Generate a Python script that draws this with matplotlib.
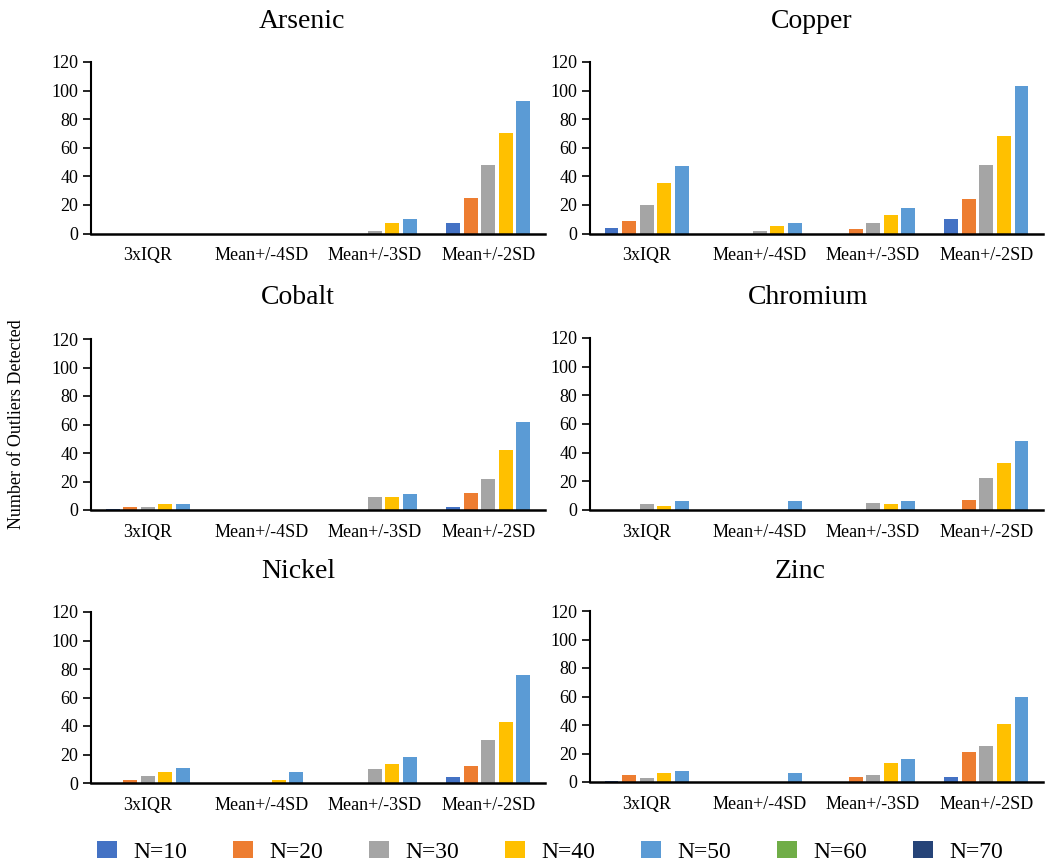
import matplotlib.pyplot as plt
import numpy as np
from matplotlib.patches import Patch

plt.rcParams["font.family"] = ["Liberation Serif", "DejaVu Serif"]

methods = ["3xIQR", "Mean+/-4SD", "Mean+/-3SD", "Mean+/-2SD"]
series = ["N=10", "N=20", "N=30", "N=40", "N=50", "N=60", "N=70"]
colors = ["#4472C4", "#ED7D31", "#A5A5A5", "#FFC000", "#5B9BD5", "#70AD47", "#264478"]

# rows: N=10..N=50, columns: methods (N=60 / N=70 have no bars)
arsenic = [[0, 0, 0, 7], [0, 0, 0, 25], [0, 0, 2, 48], [0, 0, 7, 70], [0, 0, 10, 93]]
copper = [[4, 0, 0, 10], [9, 0, 3, 24], [20, 2, 7.5, 48], [35.5, 5, 13, 68.5], [47, 7, 17.5, 103]]
cobalt = [[1, 0, 0, 2], [2, 0, 0, 12], [2, 0, 9, 22], [4, 0, 9, 42], [4, 0, 11, 62]]
chromium = [[0, 0, 0, 0], [0, 0, 0, 7], [4, 0, 5, 22], [3, 0, 4, 33], [6, 6, 6, 48]]
nickel = [[0, 0, 0, 4], [2, 0, 0, 12], [5, 0, 10, 30], [7.5, 2, 13, 43], [10.5, 8, 18, 76]]
zinc = [[1, 0, 0, 3.5], [5, 0, 3.5, 21], [3, 0, 5, 25], [6.5, 0, 13.5, 41], [8, 6.5, 16, 60]]

panels = [
    ("Arsenic", arsenic), ("Copper", copper),
    ("Cobalt", cobalt), ("Chromium", chromium),
    ("Nickel", nickel), ("Zinc", zinc),
]

W, H = 1045, 865
fig = plt.figure(figsize=(W / 100, H / 100), dpi=100)

# axes boxes in pixels: (left, right, y of 0, y of 120)
boxes = [
    (91, 545, 233.5, 62), (590, 1043, 233.5, 62),
    (91, 545, 510, 339), (590, 1043, 510, 338),
    (91, 545, 783, 612), (590, 1043, 782, 611),
]
title_pos = [(302, 21), (812, 21), (298, 297), (808, 297), (298, 572), (800, 572)]

x = np.arange(len(methods))
step = 0.155
width = 0.123

for (name, data), (l, r, y0, y1), (tx, ty) in zip(panels, boxes, title_pos):
    ax = fig.add_axes([l / W, 1 - y0 / H, (r - l) / W, (y0 - y1) / H])
    for j, vals in enumerate(data):
        ax.bar(x + (j - 2) * step, vals, width, color=colors[j], zorder=2)
    ax.set_xlim(-0.5, 3.5)
    ax.set_ylim(0, 120)
    ax.set_yticks(range(0, 121, 20))
    ax.set_xticks(x)
    ax.set_xticklabels(methods)
    ax.tick_params(axis="x", length=0, pad=10, labelsize=13)
    ax.tick_params(axis="y", length=6, width=1.2, pad=3, labelsize=13)
    for s in ["top", "right"]:
        ax.spines[s].set_visible(False)
    ax.spines["left"].set_linewidth(1.5)
    ax.spines["bottom"].set_linewidth(1.8)
    ax.spines["bottom"].set_zorder(3)
    fig.text(tx / W, 1 - ty / H, name, fontsize=20, ha="center", va="center")

fig.text(17 / W, 1 - 424 / H, "Number of Outliers Detected", fontsize=13,
         rotation=90, ha="center", va="center")

handles = [Patch(facecolor=c, label=s) for c, s in zip(colors, series)]
fig.legend(handles=handles, loc="center", bbox_to_anchor=(550 / W, 1 - 852 / H),
           ncol=7, frameon=False, fontsize=17, handlelength=0.85, handleheight=0.75,
           handletextpad=0.7, columnspacing=1.93)

fig.savefig("out.png", dpi=100)
